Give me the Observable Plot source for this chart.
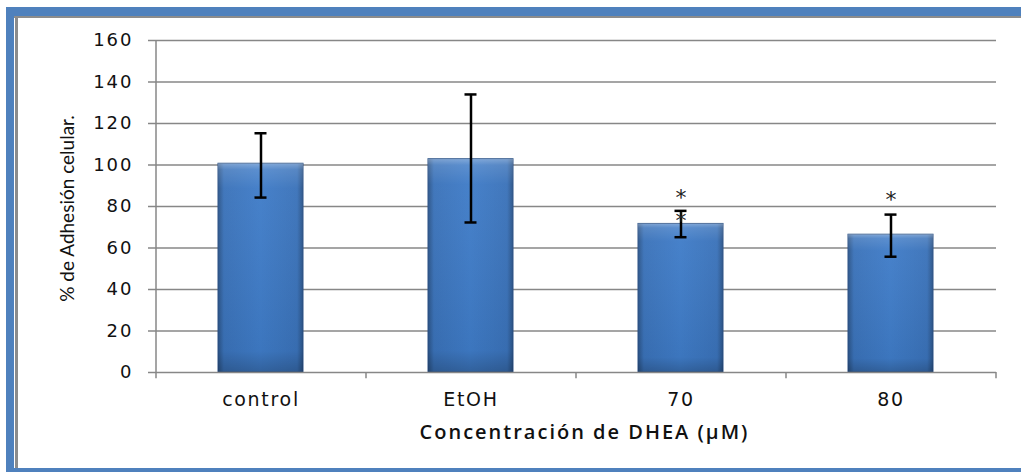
<!DOCTYPE html>
<html>
<head>
<meta charset="utf-8">
<script src="https://cdn.jsdelivr.net/npm/d3@7"></script>
<script src="https://cdn.jsdelivr.net/npm/@observablehq/plot@0.6"></script>
<style>
  body { margin: 0; background: #fff; }
  #wrap { position: relative; width: 1021px; height: 472px; overflow: hidden; background: #fff; }
  #wrap svg { position: absolute; left: 0; top: 0; }
  .b { position: absolute; }
</style>
</head>
<body>
<div id="wrap">
  <div class="b" style="left:6px;top:7px;width:1015px;height:9px;background:#4f81bd"></div>
  <div class="b" style="left:14px;top:16px;width:1007px;height:2px;background:#8c8c8c"></div>
  <div class="b" style="left:6px;top:7px;width:8px;height:465px;background:#4f81bd"></div>
  <div class="b" style="left:15px;top:16px;width:3px;height:452px;background:#8c8c8c"></div>
  <div class="b" style="left:6px;top:468px;width:1015px;height:4px;background:#4f81bd"></div>
</div>
<script>
const categories = ["control", "EtOH", "70", "80"];
const means = [100.6, 102.8, 71.6, 66.4];
const errLow = [84.3, 72.3, 65.2, 55.8];
const errHigh = [115.3, 134.0, 77.9, 76.1];
const starCategories = ["70", "70", "80"];
const starValues = [86.2, 74.8, 85.2];
const yTicks = [0, 20, 40, 60, 80, 100, 120, 140, 160];
const yLabel = "% de Adhesión celular.";
const xLabel = "Concentración de DHEA (µM)";

const bars = categories.map((c, i) => ({c, v: means[i], lo: errLow[i], hi: errHigh[i]}));
const stars = starCategories.map((c, i) => ({c, v: starValues[i]}));

const W = 1021, H = 472;
const mL = 156, mR = 25, mT = 40, mB = 100;
const step = (W - mL - mR) / categories.length;

const chart = Plot.plot({
  width: W,
  height: H,
  marginLeft: mL,
  marginRight: mR,
  marginTop: mT,
  marginBottom: mB,
  style: {background: "transparent", overflow: "visible"},
  x: {domain: categories, paddingInner: 0.595, paddingOuter: 0.2975, label: null},
  y: {domain: [0, 160], label: null},
  marks: [
    Plot.ruleY(yTicks.filter(d => d > 0), {stroke: "#878787", strokeWidth: 1.5}),
    Plot.barY(bars, {x: "c", y: "v", fill: "url(#gh)", stroke: "#2a5185", strokeWidth: 1}),
    Plot.barY(bars, {x: "c", y: "v", fill: "url(#gv)"}),
    Plot.ruleY([0], {stroke: "#878787", strokeWidth: 1.5}),
    Plot.ruleX([categories[0]], {dx: -step / 2, y1: 0, y2: 160, stroke: "#878787", strokeWidth: 1.5}),
    Plot.ruleX(categories, {x: d => d, dx: -step / 2, y1: 0, y2: -3, stroke: "#878787", strokeWidth: 1.5}),
    Plot.ruleX([categories[categories.length - 1]], {dx: step / 2, y1: 0, y2: -3, stroke: "#878787", strokeWidth: 1.5}),
    Plot.ruleX(bars, {x: "c", y1: "lo", y2: "hi", stroke: "#000", strokeWidth: 2.5}),
    Plot.tickY(bars, {x: "c", y: "lo", stroke: "#000", strokeWidth: 2.5, insetLeft: 36.5, insetRight: 36.5}),
    Plot.tickY(bars, {x: "c", y: "hi", stroke: "#000", strokeWidth: 2.5, insetLeft: 36.5, insetRight: 36.5}),
    Plot.text(stars, {x: "c", y: "v", text: () => "*", fontSize: 22, fontFamily: "DejaVu Sans", fill: "#222", dy: 4}),
    Plot.axisY({ticks: yTicks, tickSize: 8, tickPadding: 15, stroke: "#878787", strokeWidth: 1.5, fill: "#111",
      fontSize: 18, fontFamily: "DejaVu Sans", label: null, tickFormat: d => String(d)}),
    Plot.axisX({tickSize: 0, tickPadding: 20, fill: "#111", fontSize: 19, fontFamily: "DejaVu Sans", label: null}),
    Plot.text([yLabel], {frameAnchor: "left", textAnchor: "middle", rotate: -90, dx: -89, dy: 2, fontSize: 19, fontFamily: "Lato", fill: "#111"}),
    Plot.text([xLabel], {frameAnchor: "bottom", dy: 66, dx: 8, fontSize: 20, fontFamily: "Open Sans", fontWeight: 600, fill: "#111"})
  ]
});

const svg = d3.select(chart);
svg.selectAll('[aria-label="y-axis tick label"] text').style("letter-spacing", "2px");
svg.selectAll('[aria-label="x-axis tick label"] text').style("letter-spacing", "1.7px");
svg.selectAll("text").filter(function () { return this.textContent === xLabel; }).style("letter-spacing", "2px");

const defs = svg.insert("defs", ":first-child");
const gh = defs.append("linearGradient").attr("id", "gh").attr("x1", 0).attr("x2", 1).attr("y1", 0).attr("y2", 0);
[["0%", "#2b5488"], ["7%", "#3a72b9"], ["50%", "#3f7cc8"], ["93%", "#3a72b9"], ["100%", "#2b5488"]]
  .forEach(([o, c]) => gh.append("stop").attr("offset", o).attr("stop-color", c));
const gv = defs.append("linearGradient").attr("id", "gv").attr("x1", 0).attr("x2", 0).attr("y1", 0).attr("y2", 1);
[["0%", "#ffffff", 0.35], ["3%", "#ffffff", 0.15], ["12%", "#ffffff", 0.04], ["90%", "#000000", 0.05], ["100%", "#000000", 0.22]]
  .forEach(([o, c, a]) => gv.append("stop").attr("offset", o).attr("stop-color", c).attr("stop-opacity", a));

document.getElementById("wrap").appendChild(chart);
</script>
</body>
</html>
